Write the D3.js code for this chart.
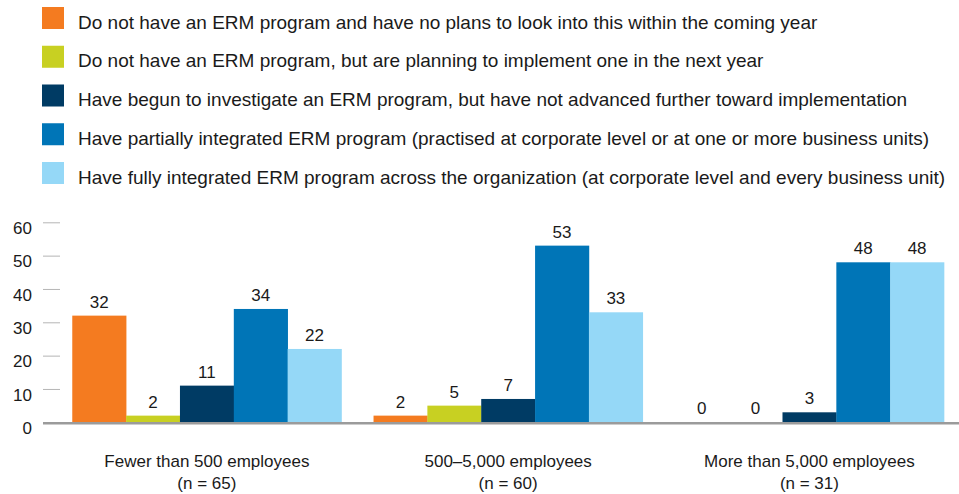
<!DOCTYPE html>
<head>
    <meta charset="utf-8">
    <script src="https://d3js.org/d3.v7.min.js"></script>
    <style>
        body {
            margin: 0;
            background: white;
        }
        text {
            font-family: "Liberation Sans", Arial, Helvetica, sans-serif;
            font-size: 17px;
            fill: #1a1a1a;
        }
        .legend text {
            font-size: 19px;
        }
    </style>
</head>

<body>
<svg id="chart" width=959 height=494></svg>
<script>

    const groups = ["Fewer than 500 employees", "500\u20135,000 employees", "More than 5,000 employees"];
    const groupN = ["(n = 65)", "(n = 60)", "(n = 31)"];

    const seriesNames = [
        "Do not have an ERM program and have no plans to look into this within the coming year",
        "Do not have an ERM program, but are planning to implement one in the next year",
        "Have begun to investigate an ERM program, but have not advanced further toward implementation",
        "Have partially integrated ERM program (practised at corporate level or at one or more business units)",
        "Have fully integrated ERM program across the organization (at corporate level and every business unit)"
    ];
    const colors = ["#f47b20", "#c8d022", "#003b64", "#0075b7", "#95d8f7"];

    // one array per series, values per group
    const noPlans = [32, 2, 0];
    const planning = [2, 5, 0];
    const investigating = [11, 7, 3];
    const partial = [34, 53, 48];
    const full = [22, 33, 48];
    const series = [noPlans, planning, investigating, partial, full];

    const yTicks = [0, 10, 20, 30, 40, 50, 60];

    const svg = d3.select("#chart");

    // legend
    const legend = svg.append("g").attr("class", "legend");
    legend.selectAll("rect")
        .data(seriesNames)
        .enter()
        .append("rect")
        .attr("x", 42)
        .attr("y", function (d, i) { return 7 + i * 38.75 })
        .attr("width", 22)
        .attr("height", 22)
        .style("fill", function (d, i) { return colors[i] });

    legend.selectAll("text")
        .data(seriesNames)
        .enter()
        .append("text")
        .attr("x", 78)
        .attr("y", function (d, i) { return 28.5 + i * 38.75 })
        .text(function (d) { return d });

    // scales
    const x0 = d3.scaleBand()
        .domain(groups)
        .range([56.3, 960])
        .paddingInner(32 / 301)
        .paddingOuter(0.053);

    const x1 = d3.scaleBand()
        .domain(d3.range(series.length))
        .range([0, x0.bandwidth()]);

    const y = d3.scaleLinear()
        .domain([0, 60])
        .range([422.3, 222.3]);

    // y axis: short grey ticks, labels sitting just below each tick
    const yAxis = d3.axisLeft(y)
        .tickValues(yTicks)
        .tickSize(17)
        .tickPadding(11);

    const yg = svg.append("g")
        .attr("transform", "translate(60,0)")
        .call(yAxis);
    yg.select(".domain").remove();
    yg.selectAll(".tick line").attr("stroke", "#b5b5b5").attr("stroke-width", 1);
    yg.selectAll(".tick text")
        .attr("dy", "0.66em")
        .style("font-size", "17px")
        .style("font-family", "'Liberation Sans', Arial, sans-serif")
        .style("fill", "#1a1a1a");

    // bars
    const rows = [];
    groups.forEach(function (g, gi) {
        series.forEach(function (s, si) {
            rows.push({group: g, s: si, value: s[gi]});
        });
    });

    svg.selectAll("rect.bar")
        .data(rows)
        .enter()
        .append("rect")
        .attr("class", "bar")
        .attr("x", function (d) { return x0(d.group) + x1(d.s) })
        .attr("y", function (d) { return y(d.value) })
        .attr("width", x1.bandwidth() + 0.3)
        .attr("height", function (d) { return y(0) - y(d.value) })
        .style("fill", function (d) { return colors[d.s] });

    svg.selectAll("text.val")
        .data(rows)
        .enter()
        .append("text")
        .attr("class", "val")
        .attr("x", function (d) { return x0(d.group) + x1(d.s) + x1.bandwidth() / 2 })
        .attr("y", function (d) { return y(d.value) - 8 })
        .style("text-anchor", "middle")
        .text(function (d) { return d.value });

    // baseline
    svg.append("line")
        .attr("x1", 43)
        .attr("x2", 959)
        .attr("y1", y(0) + 1)
        .attr("y2", y(0) + 1)
        .attr("stroke", "#9b9b9b")
        .attr("stroke-width", 2.6);

    // category labels
    const cat = svg.selectAll("g.cat")
        .data(groups)
        .enter()
        .append("g")
        .attr("class", "cat")
        .attr("transform", function (d) { return "translate(" + (x0(d) + x0.bandwidth() / 2) + ",0)" });

    cat.append("text")
        .attr("y", 467)
        .style("text-anchor", "middle")
        .text(function (d) { return d });

    cat.append("text")
        .attr("y", 489)
        .style("text-anchor", "middle")
        .text(function (d, i) { return groupN[i] });

</script>

</body>
